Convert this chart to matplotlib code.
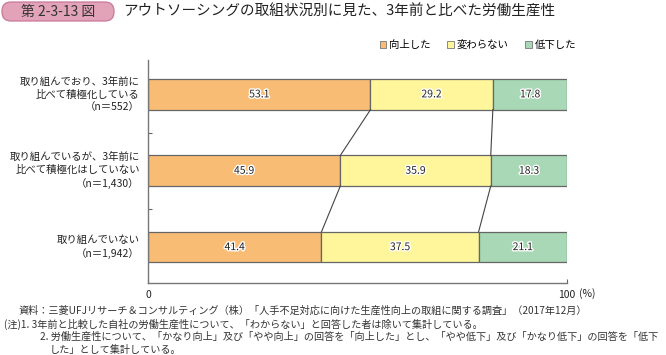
import matplotlib.pyplot as plt
import matplotlib.patheffects as pe
from matplotlib.patches import FancyBboxPatch, Patch
import numpy as np

plt.rcParams['font.family'] = ['Noto Sans CJK JP', 'DejaVu Sans']

categories = ['取り組んでおり、3年前に\n比べて積極化している\n（n＝552）',
              '取り組んでいるが、3年前に\n比べて積極化はしていない\n（n＝1,430）',
              '取り組んでいない\n（n＝1,942）']
series_names = ['向上した', '変わらない', '低下した']
improved = [53.1, 45.9, 41.4]
unchanged = [29.2, 35.9, 37.5]
declined = [17.8, 18.3, 21.1]
colors = ['#F9BC74', '#FFF59B', '#A8D8B5']

notes = ['資料：三菱UFJリサーチ＆コンサルティング（株）「人手不足対応に向けた生産性向上の取組に関する調査」（2017年12月）',
         '(注)1. 3年前と比較した自社の労働生産性について、「わからない」と回答した者は除いて集計している。',
         '2. 労働生産性について、「かなり向上」及び「やや向上」の回答を「向上した」とし、「やや低下」及び「かなり低下」の回答を「低下',
         'した」として集計している。']

W, H = 666, 355
fig = plt.figure(figsize=(W / 100, H / 100), dpi=100)

# pixel-space overlay for the header box
bg = fig.add_axes([0, 0, 1, 1])
bg.set_xlim(0, W)
bg.set_ylim(H, 0)
bg.axis('off')
bg.add_patch(FancyBboxPatch((2, 2), 112, 19, boxstyle='round,pad=0,rounding_size=9',
                            facecolor='#E2A3B8', edgecolor='#C9789A', linewidth=0.9))
bg.text(58, 12, '第 2-3-13 図', ha='center', va='center', fontsize=10, color='#333333')
bg.text(123, 12, 'アウトソーシングの取組状況別に見た、3年前と比べた労働生産性',
        ha='left', va='center', fontsize=10.5, color='#222222')

ys = [311, 324, 337, 350]
xs = [18, 4, 40, 50]
for t, yy, xx in zip(notes, ys, xs):
    bg.text(xx, yy, t, ha='left', va='center', fontsize=7.3, color='#333333')
bg.text(579, 294, '(%)', ha='left', va='center', fontsize=7.5, color='#222222')

ax = fig.add_axes([148 / W, 1 - 283 / H, (567 - 148) / W, (283 - 60) / H])

y = np.arange(len(categories))
data = [improved, unchanged, declined]
left = np.zeros(len(categories))
for vals, c in zip(data, colors):
    vals = np.array(vals)
    ax.barh(y, vals, left=left, height=0.4, color=c, edgecolor='#666666', linewidth=0.9)
    for yi, l, v in zip(y, left, vals):
        ax.text(l + v / 2, yi, f'{v:.1f}', ha='center', va='center', fontsize=7.5, color='#222222',
                path_effects=[pe.withStroke(linewidth=2, foreground='white')])
    left = left + vals

# connecting lines between bars
cum1 = np.array(improved)
cum2 = cum1 + np.array(unchanged)
for cum in (cum1, cum2):
    for i in range(len(categories) - 1):
        ax.plot([cum[i], cum[i + 1]], [y[i] + 0.2, y[i + 1] - 0.2], color='#444444', lw=0.8)

ax.set_xlim(0, 100)
ax.set_ylim(2.47, -0.45)
ax.set_yticks([0.5, 1.5])
ax.set_yticklabels([])
ax.tick_params(axis='y', direction='in', length=3, color='#666666')
ax.set_xticks([0, 100])
ax.set_xticklabels(['0', '100'], fontsize=7.5, color='#222222')
ax.tick_params(axis='x', direction='in', length=3, color='#666666', pad=5)
for s in ['top', 'right']:
    ax.spines[s].set_visible(False)
for s in ['left', 'bottom']:
    ax.spines[s].set_color('#777777')
    ax.spines[s].set_linewidth(1.0)

for yi, lab in zip(y, categories):
    ax.text(-2, yi, lab, ha='right', va='center', fontsize=7.5, color='#222222', linespacing=1.35)

# legend
handles = [Patch(facecolor=c, edgecolor='#777777', linewidth=0.6) for c in colors]
fig.legend(handles, series_names, loc='center', bbox_to_anchor=(478 / W, 1 - 45 / H), ncol=3,
           frameon=False, fontsize=7.5, handlelength=0.6, handleheight=0.6, handletextpad=0.3,
           columnspacing=1.6)

fig.savefig('out.png', dpi=100)
